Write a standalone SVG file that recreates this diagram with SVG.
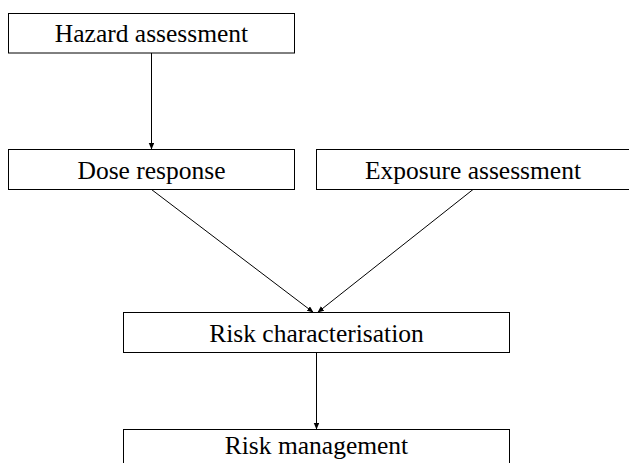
<svg xmlns="http://www.w3.org/2000/svg" width="629" height="463" viewBox="0 0 629 463">
<style>
.box{fill:#fff;stroke:#000;stroke-width:1}
.lbl{font-family:"Liberation Serif","Times New Roman",serif;font-size:25.5px;fill:#000;text-anchor:middle}
.edge{stroke:#000;stroke-width:1;fill:none;marker-end:url(#ah)}
</style>
<defs>
<marker id="ah" markerUnits="userSpaceOnUse" markerWidth="7" markerHeight="6" refX="6.5" refY="2.75" orient="auto">
<path d="M0,0 L6.5,2.75 L0,5.5 z" fill="#000"/>
</marker>
</defs>
<rect width="629" height="463" fill="#fff"/>
<g id="connectors">
<line class="edge" x1="151.5" y1="53" x2="151.5" y2="149.5"/>
<line class="edge" x1="151.5" y1="189.5" x2="313.5" y2="312.5"/>
<line class="edge" x1="473" y1="189.5" x2="317.5" y2="312.5"/>
<line class="edge" x1="316.5" y1="352.5" x2="316.5" y2="429.5"/>
</g>
<g id="hazard">
<rect class="box" x="8.5" y="13.5" width="286" height="39.5"/>
<text class="lbl" x="151.5" y="42.3">Hazard assessment</text>
</g>
<g id="dose">
<rect class="box" x="8.5" y="149.5" width="286" height="40"/>
<text class="lbl" x="151.5" y="178.7">Dose response</text>
</g>
<g id="exposure">
<rect class="box" x="316.5" y="149.5" width="320" height="40"/>
<text class="lbl" x="473" y="178.7">Exposure assessment</text>
</g>
<g id="riskchar">
<rect class="box" x="123.5" y="312.5" width="386" height="40"/>
<text class="lbl" x="316.5" y="341.7">Risk characterisation</text>
</g>
<g id="riskmgmt">
<rect class="box" x="123.5" y="429.5" width="386" height="40"/>
<text class="lbl" x="316.5" y="454">Risk management</text>
</g>
</svg>
